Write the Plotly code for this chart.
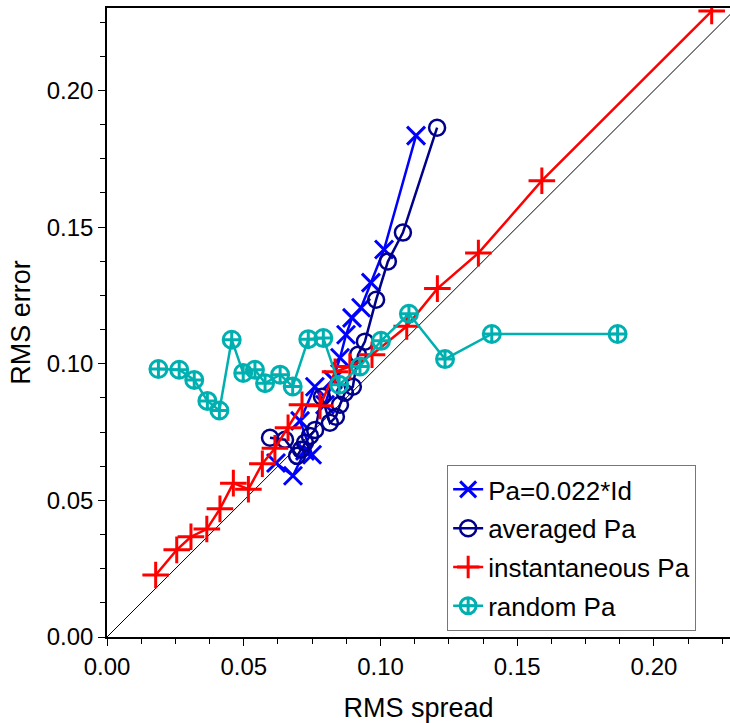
import plotly.graph_objects as go

# Pa=0.022*Id
blue_x = [0.0618, 0.0680, 0.0724, 0.0750, 0.0706, 0.0760, 0.0797, 0.0826, 0.0852, 0.0874, 0.0896, 0.0929, 0.0965, 0.1013, 0.1130]
blue_y = [0.0637, 0.0590, 0.0681, 0.0667, 0.0791, 0.0916, 0.0850, 0.0941, 0.1022, 0.1106, 0.1168, 0.1205, 0.1297, 0.1418, 0.1835]

# averaged Pa
navy_x = [0.0596, 0.0651, 0.0695, 0.0709, 0.0724, 0.0742, 0.0761, 0.0786, 0.0815, 0.0837, 0.0852, 0.0870, 0.0899, 0.0918, 0.0943, 0.0984, 0.1027, 0.1082, 0.1207]
navy_y = [0.0729, 0.0722, 0.0663, 0.0685, 0.0711, 0.0736, 0.0758, 0.0879, 0.0784, 0.0806, 0.0850, 0.0894, 0.0916, 0.1033, 0.1081, 0.1234, 0.1374, 0.1480, 0.1864]

# instantaneous Pa
red_x = [0.0178, 0.0255, 0.0307, 0.0365, 0.0413, 0.0462, 0.0517, 0.0568, 0.0614, 0.0662, 0.0713, 0.0779, 0.0834, 0.0888, 0.0969, 0.1096, 0.1208, 0.1358, 0.1590, 0.2211]
red_y = [0.0227, 0.0319, 0.0367, 0.0395, 0.0469, 0.0563, 0.0541, 0.0634, 0.0691, 0.0766, 0.0850, 0.0846, 0.0971, 0.0990, 0.1033, 0.1137, 0.1275, 0.1405, 0.1670, 0.2291]

# random Pa
cyan_x = [0.0188, 0.0264, 0.0319, 0.0367, 0.0411, 0.0456, 0.0498, 0.0541, 0.0578, 0.0633, 0.0679, 0.0736, 0.0791, 0.0849, 0.0925, 0.1002, 0.1104, 0.1236, 0.1407, 0.1867]
cyan_y = [0.0981, 0.0978, 0.0941, 0.0864, 0.0829, 0.1088, 0.0966, 0.0978, 0.0929, 0.0960, 0.0917, 0.1090, 0.1094, 0.0923, 0.0990, 0.1084, 0.1183, 0.1017, 0.1109, 0.1109]

diag = [0.0, 0.25]

x_range = [0, 0.2278]
y_range = [0, 0.2302]
tick_vals = [0.00, 0.05, 0.10, 0.15, 0.20]

FONT = "Liberation Sans, Arial, sans-serif"

fig = go.Figure()

fig.add_trace(go.Scatter(x=diag, y=diag, mode="lines", line=dict(color="black", width=1),
                         showlegend=False, hoverinfo="skip"))

fig.add_trace(go.Scatter(x=blue_x, y=blue_y, mode="lines+markers", name="Pa=0.022*Id",
                         legendgroup="a",
                         line=dict(color="#0000ff", width=2.5),
                         marker=dict(symbol="x-thin-open", size=18, color="#0000ff",
                                     line=dict(color="#0000ff", width=3))))
fig.add_trace(go.Scatter(x=navy_x, y=navy_y, mode="lines+markers", name="averaged Pa",
                         legendgroup="b",
                         line=dict(color="#00008b", width=2.5),
                         marker=dict(symbol="circle-open", size=16, color="#00008b",
                                     line=dict(color="#00008b", width=2.5))))
fig.add_trace(go.Scatter(x=red_x, y=red_y, mode="lines+markers", name="instantaneous Pa",
                         legendgroup="c",
                         line=dict(color="#ff0000", width=2.5),
                         marker=dict(symbol="cross-thin-open", size=19, color="#ff0000",
                                     line=dict(color="#ff0000", width=3))))
fig.add_trace(go.Scatter(x=cyan_x, y=cyan_y, mode="lines+markers", name="random Pa",
                         legendgroup="d",
                         line=dict(color="#00b0b0", width=2.5),
                         marker=dict(symbol="circle-cross-open", size=17, color="#00b0b0",
                                     line=dict(color="#00b0b0", width=3))))

axis_common = dict(
    showline=True, linecolor="black", linewidth=1.5,
    ticks="outside", ticklen=7, tickwidth=1, tickcolor="black",
    tickvals=tick_vals, tickformat=".2f",
    showgrid=False, zeroline=False,
    tickfont=dict(family=FONT, size=24, color="black"),
    minor=dict(dtick=0.0125, tick0=0, ticks="outside", ticklen=5, tickcolor="black", showgrid=False),
)

fig.update_layout(
    width=730, height=723,
    margin=dict(l=107, r=0, t=8, b=86),
    paper_bgcolor="white", plot_bgcolor="white",
    font=dict(family=FONT, size=24, color="black"),
    xaxis=dict(range=x_range, mirror=True,
               title=dict(text="RMS spread", font=dict(family=FONT, size=27, color="black"), standoff=20),
               **axis_common),
    yaxis=dict(range=y_range,
               title=dict(text="RMS error", font=dict(family=FONT, size=27, color="black"), standoff=8),
               **axis_common),
    legend=dict(x=0.546, y=0.2735, xanchor="left", yanchor="top",
                bgcolor="white", bordercolor="#777777", borderwidth=1,
                font=dict(family=FONT, size=26, color="black"),
                traceorder="grouped", tracegroupgap=2, itemwidth=30,
                entrywidth=240, entrywidthmode="pixels"),
)

fig.write_html("out.html")
